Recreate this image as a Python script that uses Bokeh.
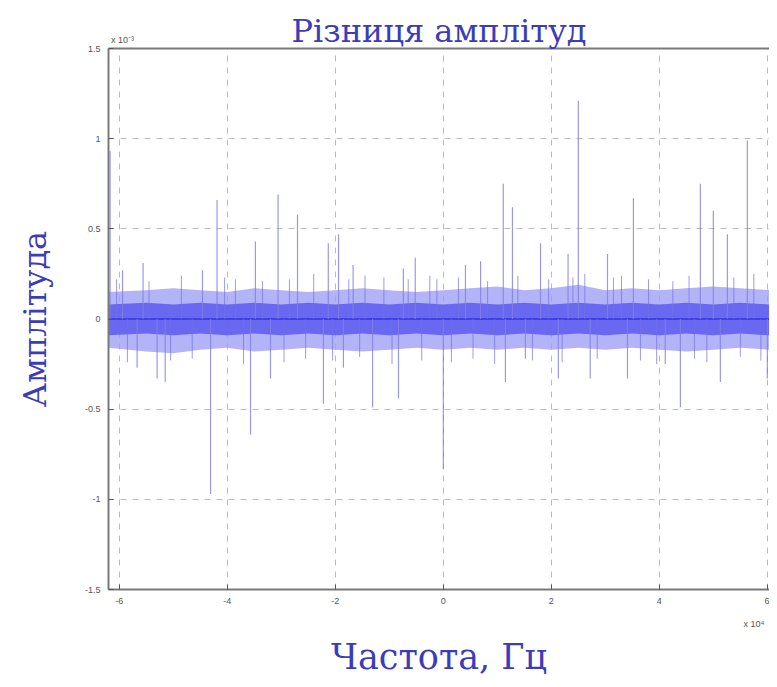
from bokeh.plotting import figure
from bokeh.models import Range1d, FixedTicker, LinearAxis
from bokeh.embed import file_html
from bokeh.resources import INLINE

# ---------------- data ----------------
title_text = "Різниця амплітуд"
x_label_text = "Частота, Гц"
y_label_text = "Амплітуда"
x_ticks = [-6, -4, -2, 0, 2, 4, 6]
x_tick_labels = ["-6", "-4", "-2", "0", "2", "4", "6"]
y_ticks = [-1.5, -1, -0.5, 0, 0.5, 1, 1.5]
y_tick_labels = ["-1.5", "-1", "-0.5", "0", "0.5", "1", "1.5"]
y_multiplier = "x 10⁻³"
x_multiplier = "x 10⁴"

# envelope of the dense noise band
band_x = [-6.2, -5.5, -5.0, -4.5, -4.0, -3.5, -3.0, -2.5, -2.0, -1.5, -1.0, -0.5,
          0.0, 0.5, 1.0, 1.5, 2.0, 2.5, 3.0, 3.5, 4.0, 4.5, 5.0, 5.5, 6.04]
band_upper = [0.15, 0.16, 0.17, 0.16, 0.15, 0.17, 0.16, 0.15, 0.16, 0.17, 0.16, 0.15,
              0.16, 0.17, 0.18, 0.16, 0.17, 0.19, 0.16, 0.17, 0.16, 0.17, 0.18, 0.17, 0.16]
band_lower = [-0.16, -0.18, -0.19, -0.17, -0.16, -0.18, -0.17, -0.16, -0.17, -0.18, -0.17, -0.16,
              -0.17, -0.16, -0.17, -0.16, -0.17, -0.16, -0.17, -0.16, -0.17, -0.18, -0.17, -0.16, -0.17]
core_upper = [0.08, 0.09, 0.08, 0.09, 0.08, 0.09, 0.08, 0.09, 0.08, 0.09, 0.08, 0.09,
              0.08, 0.09, 0.08, 0.09, 0.08, 0.09, 0.08, 0.09, 0.08, 0.09, 0.08, 0.09, 0.08]
core_lower = [-0.09, -0.08, -0.09, -0.08, -0.09, -0.08, -0.09, -0.08, -0.09, -0.08, -0.09, -0.08,
              -0.09, -0.08, -0.09, -0.08, -0.09, -0.08, -0.09, -0.08, -0.09, -0.08, -0.09, -0.08, -0.09]

# tall isolated spikes
spike_x = [-6.17, -5.94, -5.67, -5.56, -5.30, -5.15, -4.46, -4.31, -4.19, -3.57, -3.48, -3.20,
           -3.06, -2.70, -2.22, -2.13, -1.94, -1.85, -1.67, -1.31, -0.83, -0.74, -0.52, 0.00,
           0.41, 0.69, 1.11, 1.15, 1.28, 1.52, 1.80, 2.13, 2.31, 2.50, 2.72, 3.04, 3.41, 3.52,
           4.11, 4.39, 4.76, 5.00, 5.13, 5.26, 5.63, 6.00]
spike_y = [0.93, 0.27, -0.27, 0.31, -0.33, -0.35, 0.27, -0.97, 0.66, -0.64, 0.43, -0.33,
           0.69, 0.58, -0.47, 0.42, 0.47, -0.27, 0.30, -0.49, -0.44, 0.28, 0.34, -0.83,
           0.30, 0.32, 0.75, -0.35, 0.62, -0.22, 0.42, -0.33, 0.36, 1.21, -0.33, 0.36, -0.33, 0.67,
           -0.25, -0.49, 0.75, 0.60, -0.35, 0.47, 0.99, -0.33]

# medium noise spikes around the band
noise_x = [-6.05, -5.85, -5.45, -5.05, -4.85, -4.65, -4.05, -3.85, -3.70, -3.35, -2.95, -2.85,
           -2.55, -2.40, -2.05, -1.75, -1.55, -1.45, -1.10, -0.95, -0.65, -0.40, -0.25, -0.12,
           0.15, 0.28, 0.55, 0.82, 0.95, 1.38, 1.65, 1.95, 2.20, 2.40, 2.62, 2.85, 3.15, 3.30,
           3.65, 3.80, 3.95, 4.25, 4.55, 4.65, 4.88, 5.38, 5.50, 5.75, 5.88]
noise_y = [0.22, -0.24, 0.21, -0.23, 0.24, -0.22, 0.23, 0.22, -0.25, 0.21, -0.24, 0.22,
           -0.22, 0.25, -0.23, 0.22, -0.21, 0.24, 0.23, -0.25, 0.22, -0.23, 0.24, 0.22,
           -0.24, 0.23, -0.22, 0.21, -0.25, 0.24, -0.23, 0.22, -0.24, 0.23, 0.25, -0.22, 0.23, 0.24,
           -0.23, 0.22, -0.25, 0.21, 0.24, -0.22, -0.24, 0.23, -0.21, 0.25, -0.23]

LABEL_BLUE = "#3c3cb8"
TICK_GREY = "#555555"
FRAME_GREY = "#7a7a7a"

# ---------------- figure ----------------
p = figure(width=769, height=679, output_backend="svg", toolbar_location=None,
           x_range=Range1d(-6.2, 6.04), y_range=Range1d(-1.5, 1.5),
           min_border_left=108, min_border_right=0, min_border_top=48, min_border_bottom=89)
p.background_fill_color = "white"
p.border_fill_color = "white"
p.outline_line_color = None

# band
p.varea(x=band_x, y1=band_lower, y2=band_upper, fill_color="#9a9af5", fill_alpha=0.75)
p.varea(x=band_x, y1=core_lower, y2=core_upper, fill_color="#5a5aee", fill_alpha=0.85)
p.line(x=band_x, y=[0] * len(band_x), line_color="#3535e2", line_width=1.5)

# spikes
p.segment(x0=noise_x, y0=[0] * len(noise_x), x1=noise_x, y1=noise_y,
          line_color="#7070e8", line_width=1, line_alpha=0.7)
p.segment(x0=spike_x, y0=[0] * len(spike_x), x1=spike_x, y1=spike_y,
          line_color="#8080e0", line_width=1.2, line_alpha=0.8)


def style_axis(ax):
    ax.minor_tick_line_color = None
    ax.axis_line_color = None
    ax.major_label_text_font = "Liberation Sans"
    ax.major_label_text_font_size = "9px"
    ax.major_label_text_color = TICK_GREY
    ax.axis_label_text_font = "DejaVu Serif"
    ax.axis_label_text_font_style = "normal"
    ax.axis_label_text_color = LABEL_BLUE


# main axes
for ax, ticks, labels in ((p.xaxis[0], x_ticks, x_tick_labels), (p.yaxis[0], y_ticks, y_tick_labels)):
    ax.ticker = FixedTicker(ticks=ticks)
    ax.major_label_overrides = {t: l for t, l in zip(ticks, labels)}
    ax.major_tick_in = 5
    ax.major_tick_out = 0
    ax.major_tick_line_color = TICK_GREY
    style_axis(ax)
    ax.axis_line_color = FRAME_GREY
    ax.axis_line_width = 2

p.xaxis[0].major_label_standoff = 8
p.yaxis[0].major_label_standoff = 8
p.yaxis[0].axis_label = y_label_text
p.yaxis[0].axis_label_text_font_size = "32px"
p.yaxis[0].axis_label_standoff = 28

# bottom: x multiplier + x label
xm_pos = 5.75
bottom2 = LinearAxis(ticker=FixedTicker(ticks=[xm_pos]), major_label_overrides={xm_pos: x_multiplier})
style_axis(bottom2)
bottom2.major_tick_line_color = None
bottom2.major_tick_in = 0
bottom2.major_tick_out = 0
bottom2.major_label_standoff = 12
bottom2.axis_label = x_label_text
bottom2.axis_label_text_font_size = "35px"
bottom2.axis_label_standoff = 5
p.add_layout(bottom2, "below")

# top: frame line, y multiplier + title
ym_pos = -5.94
top = LinearAxis(ticker=FixedTicker(ticks=[ym_pos]), major_label_overrides={ym_pos: y_multiplier})
style_axis(top)
top.axis_line_color = FRAME_GREY
top.axis_line_width = 2
top.major_tick_line_color = None
top.major_tick_in = 0
top.major_tick_out = 0
top.major_label_standoff = 4
top.axis_label = title_text
top.axis_label_text_font_size = "32px"
top.axis_label_standoff = -18
p.add_layout(top, "above")

p.xgrid.grid_line_color = "#bcbcbc"
p.ygrid.grid_line_color = "#bcbcbc"
p.xgrid.grid_line_dash = "6 6"
p.ygrid.grid_line_dash = "6 6"

open("out.html", "w").write(file_html(p, INLINE))
